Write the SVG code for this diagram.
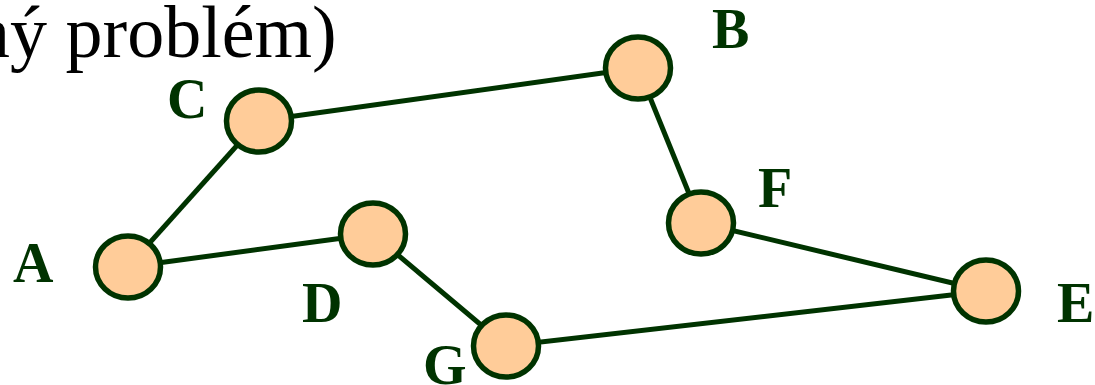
<svg xmlns="http://www.w3.org/2000/svg" width="1095" height="385" viewBox="0 0 1095 385">
<style>
.edge{stroke:#003300;stroke-width:5;fill:none}
.node{fill:#FFCC99;stroke:#003300;stroke-width:5.5}
.lbl{font-family:"Liberation Serif",serif;font-weight:bold;font-size:56px;fill:#003300}
.title{font-family:"Liberation Serif",serif;font-size:74px;fill:#000}
</style>
<rect width="1095" height="385" fill="#fff"/>
<text class="title" x="-27" y="57">ný problém)</text>
<g id="connectors">
<line class="edge" x1="259" y1="121" x2="638" y2="68"/>
<line class="edge" x1="638" y1="68" x2="701" y2="223"/>
<line class="edge" x1="701" y1="223" x2="986" y2="291"/>
<line class="edge" x1="986" y1="291" x2="506" y2="346"/>
<line class="edge" x1="506" y1="346" x2="373" y2="234"/>
<line class="edge" x1="373" y1="234" x2="128" y2="267"/>
<line class="edge" x1="128" y1="267" x2="259" y2="121"/>
</g>
<g id="A"><ellipse class="node" cx="128" cy="267" rx="32.5" ry="31"/><text class="lbl" x="13" y="282">A</text></g>
<g id="B"><ellipse class="node" cx="638" cy="68" rx="32.5" ry="31"/><text class="lbl" x="712" y="48">B</text></g>
<g id="C"><ellipse class="node" cx="259" cy="121" rx="32.5" ry="31"/><text class="lbl" x="167" y="118">C</text></g>
<g id="D"><ellipse class="node" cx="373" cy="234" rx="32.5" ry="31"/><text class="lbl" x="302" y="322">D</text></g>
<g id="E"><ellipse class="node" cx="986" cy="291" rx="32.5" ry="31"/><text class="lbl" x="1057" y="322">E</text></g>
<g id="F"><ellipse class="node" cx="701" cy="223" rx="32.5" ry="31"/><text class="lbl" x="758" y="207">F</text></g>
<g id="G"><ellipse class="node" cx="506" cy="346" rx="32.5" ry="31"/><text class="lbl" x="423" y="384">G</text></g>
</svg>
